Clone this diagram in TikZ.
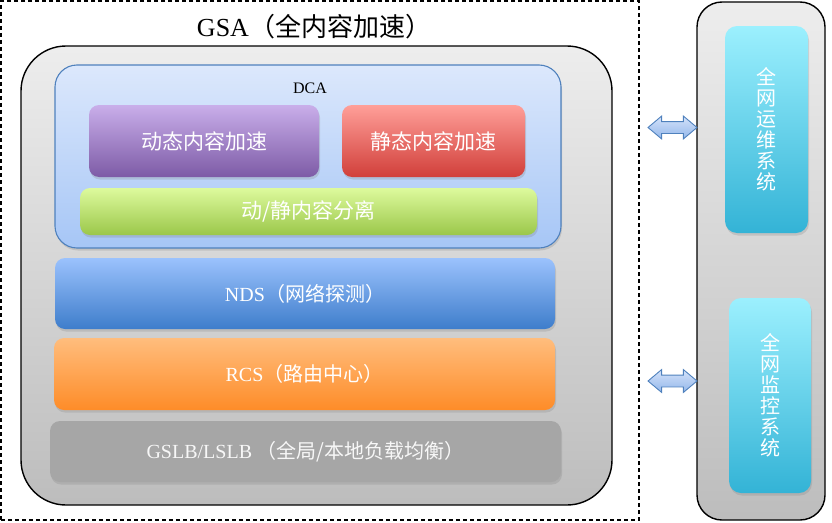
\documentclass[tikz,border=0pt]{standalone}
\usepackage{fontspec}
\setmainfont{Liberation Serif}
\newfontfamily\cjk{Noto Sans CJK SC}
\usetikzlibrary{shapes.arrows,shadows}
\definecolor{frameline}{HTML}{4F81BD}
\definecolor{dcatop}{HTML}{DCE8FC}
\definecolor{dcabot}{HTML}{A6C6F6}
\definecolor{dyntop}{HTML}{C9AEEA}
\definecolor{dynbot}{HTML}{7D5BA6}
\definecolor{statop}{HTML}{FF9F99}
\definecolor{stabot}{HTML}{D13F3A}
\definecolor{septop}{HTML}{DDFA9D}
\definecolor{sepbot}{HTML}{9BC74A}
\definecolor{ndstop}{HTML}{9BC2FD}
\definecolor{ndsbot}{HTML}{3E7DCB}
\definecolor{rcstop}{HTML}{FFBD7D}
\definecolor{rcsbot}{HTML}{FE8C28}
\definecolor{tooltop}{HTML}{9CF0FE}
\definecolor{toolbot}{HTML}{33B3D6}
\definecolor{linktop}{HTML}{D4E3FA}
\definecolor{linkbot}{HTML}{93B6EA}
\begin{document}
\begin{tikzpicture}[x=1pt,y=-1pt,
        base/.style={rectangle,inner sep=0pt,align=center,text=white,
            font=\cjk\fontsize{21}{24}\selectfont,
            drop shadow={opacity=0.25,shadow xshift=1pt,shadow yshift=-2.5pt}},
        layer/.style={base,rounded corners=10pt},
        panel/.style={rectangle,inner sep=0pt,draw=black,line width=1.4pt,
            top color=black!7,bottom color=black!26},
        tool/.style={base,rounded corners=12pt,top color=tooltop,bottom color=toolbot,
            font=\cjk\fontsize{20}{21}\selectfont},
        link/.style={double arrow,draw=frameline,line width=0.9pt,inner sep=0pt,
            text height=5.5pt,text depth=5.5pt,text width=0pt,
            minimum height=49pt,double arrow head extend=5.5pt,double arrow tip angle=80,
            top color=linktop,bottom color=linkbot}]
        \useasboundingbox (0,0) rectangle (832,522);
        % Left frame
        \node[rectangle,draw,dashed,line width=1.1pt,dash pattern=on 4pt off 3pt,
            minimum width=638pt,minimum height=519pt] (gsa) at (320,260.5) {};
        \node[font=\fontsize{26}{30}\selectfont] (title) at (314,27) {GSA{\cjk（全内容加速）}};
        \node[panel,rounded corners=45pt,minimum width=591pt,minimum height=459pt] (core) at (316.5,275.5) {};
        % DCA block
        \node[base,rounded corners=22pt,draw=frameline,line width=1.1pt,top color=dcatop,bottom color=dcabot,
            minimum width=506pt,minimum height=183pt] (dca) at (308,156.5) {};
        \node[font=\fontsize{16}{18}\selectfont] (dcat) at (310,88) {DCA};
        \node[layer,top color=dyntop,bottom color=dynbot,minimum width=230pt,minimum height=72pt] (dyn) at (204,141) {动态内容加速};
        \node[layer,top color=statop,bottom color=stabot,minimum width=183pt,minimum height=72pt] (sta) at (433.5,141) {静态内容加速};
        \node[layer,top color=septop,bottom color=sepbot,minimum width=457pt,minimum height=47pt] (sep) at (308.5,211.5) {动/静内容分离};
        % Lower layers
        \node[layer,top color=ndstop,bottom color=ndsbot,minimum width=500pt,minimum height=71pt,
            font=\cjk\fontsize{20}{24}\selectfont] (nds) at (305,293.5) {{\rmfamily NDS}（网络探测）};
        \node[layer,top color=rcstop,bottom color=rcsbot,minimum width=501pt,minimum height=72pt,
            font=\cjk\fontsize{20}{24}\selectfont] (rcs) at (304.5,374) {{\rmfamily RCS}（路由中心）};
        \node[layer,fill=black!35,text=white!94!gray,minimum width=511pt,minimum height=61pt,
            font=\cjk\fontsize{20}{24}\selectfont] (gslb) at (305.5,451.5) {{\rmfamily GSLB/LSLB}\ （全局/本地负载均衡）};
        % Right column
        \node[panel,rounded corners=25pt,minimum width=128pt,minimum height=518pt] (ops) at (761,261) {};
        \node[tool,minimum width=83pt,minimum height=207pt] (maint) at (766.5,129.5) {全\\网\\运\\维\\系\\统};
        \node[tool,minimum width=82pt,minimum height=195pt] (mon) at (770,395.5) {全\\网\\监\\控\\系\\统};
        % Links
        \node[link] (l1) at (672.5,127.5) {};
        \node[link] (l2) at (672.5,381) {};
    \end{tikzpicture}
\end{document}
